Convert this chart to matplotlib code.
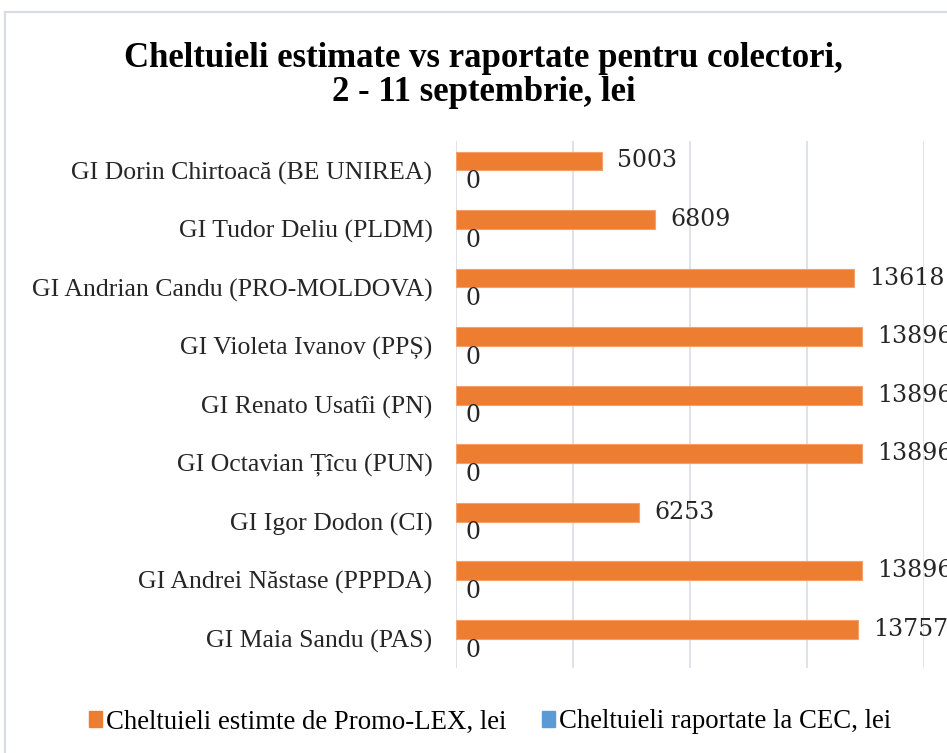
import matplotlib
matplotlib.use("Agg")
import matplotlib.pyplot as plt
from matplotlib.patches import Rectangle, Patch

categories = [
    "GI Maia Sandu (PAS)",
    "GI Andrei Năstase (PPPDA)",
    "GI Igor Dodon (CI)",
    "GI Octavian Țîcu (PUN)",
    "GI Renato Usatîi (PN)",
    "GI Violeta Ivanov (PPȘ)",
    "GI Andrian Candu (PRO-MOLDOVA)",
    "GI Tudor Deliu (PLDM)",
    "GI Dorin Chirtoacă (BE UNIREA)",
]
estimated = [13757, 13896, 6253, 13896, 13896, 13896, 13618, 6809, 5003]
reported = [0, 0, 0, 0, 0, 0, 0, 0, 0]
series_names = ["Cheltuieli estimte de Promo-LEX, lei", "Cheltuieli raportate la CEC, lei"]
title_lines = ["Cheltuieli estimate vs raportate pentru colectori,", "2 - 11 septembrie, lei"]

ORANGE = "#ED7D31"
BLUE = "#5B9BD5"
SERIF = ["Liberation Serif", "DejaVu Serif"]
NUMF = ["DejaVu Serif"]

W, H = 947, 753
fig = plt.figure(figsize=(W / 100, H / 100), dpi=100)

# outer chart border
fig.patches.append(Rectangle((5 / W, -0.1), 2, 1 - 12 / H + 0.1, transform=fig.transFigure,
                             fill=False, edgecolor="#D9DDE3", linewidth=1.6, zorder=0))

ax = fig.add_axes([456 / W, 1 - 668 / H, 468 / W, 527 / H])
h = 0.32
ys = list(range(len(categories)))
ax.barh([y + h / 2 for y in ys], estimated, height=h, color=ORANGE, edgecolor="#F3A06A", linewidth=0.8, zorder=3)
ax.barh([y - h / 2 for y in ys], reported, height=h, color=BLUE, zorder=3)

for y, v in zip(ys, estimated):
    ax.annotate(str(v), (v, y + h / 2), xytext=(15, 0), textcoords="offset pixels",
                va="center", ha="left", fontsize=17, family=NUMF, color="#262626", annotation_clip=False)
for y, v in zip(ys, reported):
    ax.annotate(str(v), (v, y - h / 2), xytext=(9, -2), textcoords="offset pixels",
                va="center", ha="left", fontsize=17, family=NUMF, color="#262626", annotation_clip=False)

ax.set_xlim(0, 16000)
ax.set_xticks([0, 4000, 8000, 12000, 16000])
ax.set_xticklabels([])
ax.set_ylim(-0.5, len(categories) - 0.5)
ax.set_yticks(ys)
ax.set_yticklabels(categories, family=SERIF, fontsize=18.5, color="#262626")
ax.tick_params(axis="both", length=0)
ax.tick_params(axis="y", pad=17)
ax.grid(axis="x", color="#D9DDE5", linewidth=1.2, zorder=0)
for s in ax.spines.values():
    s.set_visible(False)

fig.text(483.5 / W, 1 - 67 / H, title_lines[0], ha="center", va="baseline", fontsize=25, fontweight="bold",
         family=SERIF, color="#000000")
fig.text(483.5 / W, 1 - 101 / H, title_lines[1], ha="center", va="baseline", fontsize=25, fontweight="bold",
         family=SERIF, color="#000000")

handles = [Patch(color=ORANGE), Patch(color=BLUE)]
fig.legend(handles, series_names, loc="center", bbox_to_anchor=(490 / W, 1 - 722 / H), ncol=2,
           frameon=False, prop={"family": SERIF, "size": 19.3}, handlelength=0.5, handleheight=0.5,
           handletextpad=0.15, columnspacing=1.3)

fig.savefig("out.png", dpi=100)
